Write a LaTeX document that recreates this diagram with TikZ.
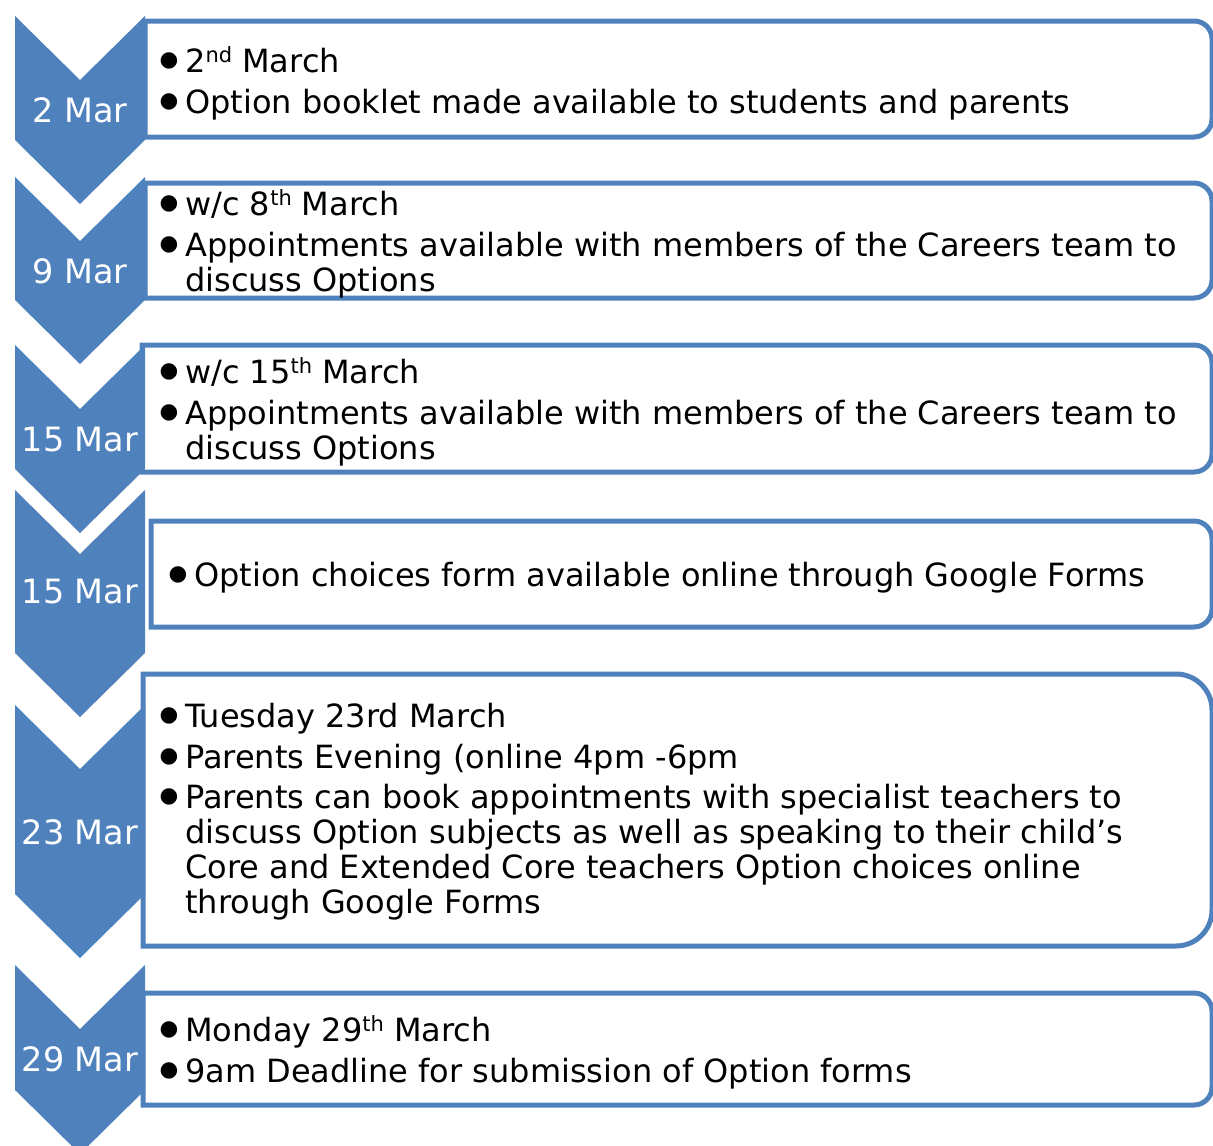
\documentclass[tikz,border=0pt]{standalone}
\usepackage{fontspec}
\setmainfont{DejaVu Sans}
\definecolor{chevblue}{HTML}{4F81BD}
\newcommand{\sups}[1]{\raisebox{10pt}{\fontsize{21}{21}\selectfont #1}}
\tikzset{
  chevron/.style={fill=chevblue, draw=none},
  datebox/.style={draw=chevblue, line width=5pt, fill=white},
  datelabel/.style={anchor=base, inner sep=0pt, text=white, font=\fontsize{33.5}{35}\selectfont},
  bulletmark/.style={anchor=center, inner sep=0pt, font=\fontsize{21.5}{22}\selectfont},
  itemtext/.style={anchor=base west, inner sep=0pt, font=\fontsize{32}{35}\selectfont}
}
\begin{document}
\begin{tikzpicture}[x=1pt,y=-1pt]
\useasboundingbox (0,0) rectangle (1213,1146);
\clip (0,0) rectangle (1213,1146);

% Drawing boxes (right corners rounded)
\draw [datebox] (145,137) -- (145,21) -- (1194,21) arc (-90:0:18) -- (1212,119) arc (0:90:18) -- cycle;%
\draw [datebox] (145,298) -- (145,183) -- (1194,183) arc (-90:0:18) -- (1212,280) arc (0:90:18) -- cycle;%
\draw [datebox] (142,472) -- (142,345) -- (1194,345) arc (-90:0:18) -- (1212,454) arc (0:90:18) -- cycle;%
\draw [datebox] (151,627) -- (151,521) -- (1194,521) arc (-90:0:18) -- (1212,609) arc (0:90:18) -- cycle;%
\draw [datebox] (143,946) -- (143,674) -- (1176,674) arc (-90:0:36) -- (1212,910) arc (0:90:36) -- cycle;%
\draw [datebox] (143,1105) -- (143,993) -- (1194,993) arc (-90:0:18) -- (1212,1087) arc (0:90:18) -- cycle;%

% Drawing chevrons
\foreach \ctop/\cbot in {16/140, 177/300, 345/469, 490/653, 705/894, 965/1090}
  \fill [chevron] (15,\ctop) -- (80,\ctop+64) -- (145,\ctop) -- (145,\cbot)
        -- (80,\cbot+64) -- (15,\cbot) -- cycle;%

% Chevron dates
\node [datelabel] (d1) at (80,122) {2 Mar};%
\node [datelabel] (d2) at (80,283) {9 Mar};%
\node [datelabel] (d3) at (80,451) {15 Mar};%
\node [datelabel] (d4) at (80,603) {15 Mar};%
\node [datelabel] (d5) at (80,844) {23 Mar};%
\node [datelabel] (d6) at (80,1071) {29 Mar};%

% Box 1
\node [bulletmark] (b1a) at (169,61) {●};%
\node [itemtext] (t1a) at (185,72) {2\sups{nd} March};%
\node [bulletmark] (b1b) at (169,102) {●};%
\node [itemtext] (t1b) at (185,113) {Option booklet made available to students and parents};%

% Box 2
\node [bulletmark] (b2a) at (169,204) {●};%
\node [itemtext] (t2a) at (185,215) {w/c 8\sups{th} March};%
\node [bulletmark] (b2b) at (169,245) {●};%
\node [itemtext] (t2b) at (185,256) {Appointments available with members of the Careers team to};%
\node [itemtext] (t2c) at (185,291) {discuss Options};%

% Box 3
\node [bulletmark] (b3a) at (169,372) {●};%
\node [itemtext] (t3a) at (185,383) {w/c 15\sups{th} March};%
\node [bulletmark] (b3b) at (169,413) {●};%
\node [itemtext] (t3b) at (185,424) {Appointments available with members of the Careers team to};%
\node [itemtext] (t3c) at (185,459) {discuss Options};%

% Box 4
\node [bulletmark] (b4a) at (178,575) {●};%
\node [itemtext] (t4a) at (194,586) {Option choices form available online through Google Forms};%

% Box 5
\node [bulletmark] (b5a) at (169,716) {●};%
\node [itemtext] (t5a) at (185,727) {Tuesday 23rd March};%
\node [bulletmark] (b5b) at (169,757) {●};%
\node [itemtext] (t5b) at (185,768) {Parents Evening (online 4pm -6pm};%
\node [bulletmark] (b5c) at (169,797) {●};%
\node [itemtext] (t5c) at (185,808) {Parents can book appointments with specialist teachers to};%
\node [itemtext] (t5d) at (185,843) {discuss Option subjects as well as speaking to their child’s};%
\node [itemtext] (t5e) at (185,878) {Core and Extended Core teachers Option choices online};%
\node [itemtext] (t5f) at (185,913) {through Google Forms};%

% Box 6
\node [bulletmark] (b6a) at (169,1030) {●};%
\node [itemtext] (t6a) at (185,1041) {Monday 29\sups{th} March};%
\node [bulletmark] (b6b) at (169,1071) {●};%
\node [itemtext] (t6b) at (185,1082) {9am Deadline for submission of Option forms};%
\end{tikzpicture}
\end{document}
